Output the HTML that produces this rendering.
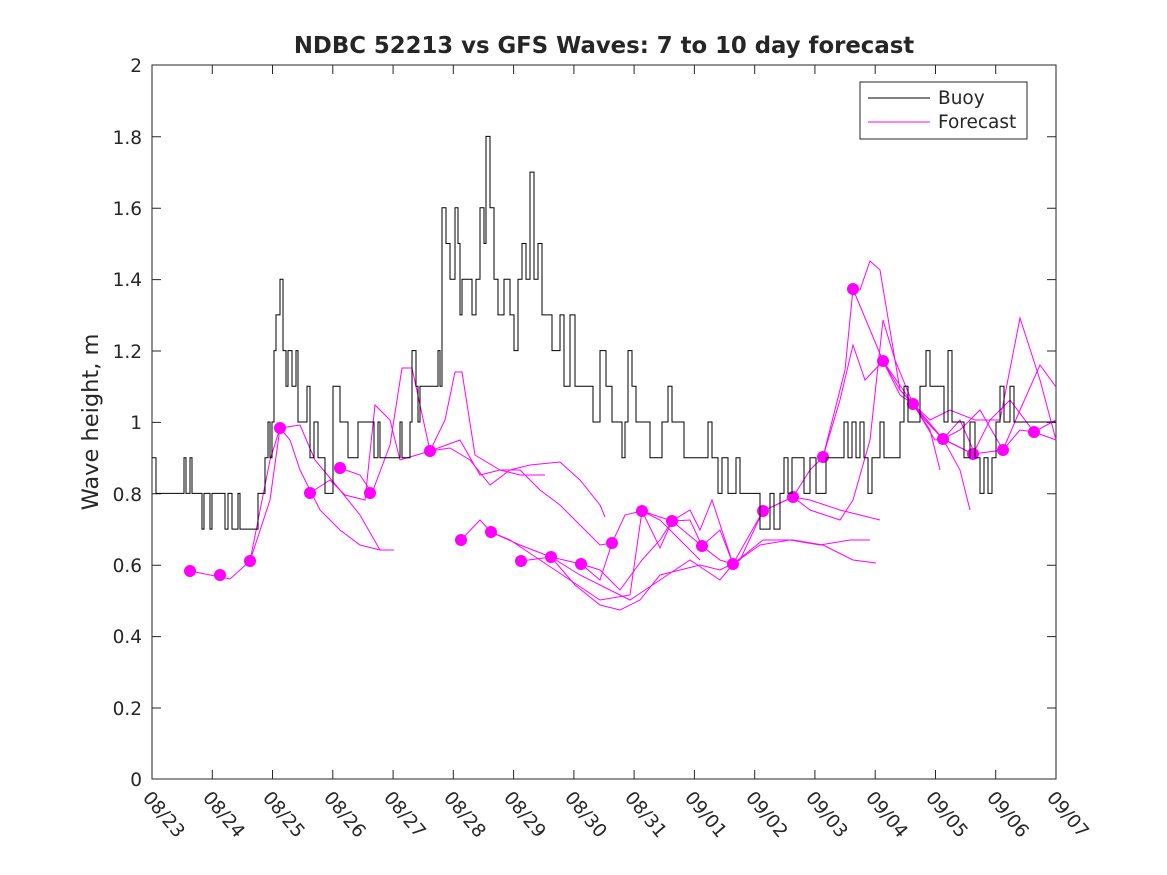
<!DOCTYPE html>
<html><head><meta charset="utf-8"><style>body{margin:0;background:#fff}svg{display:block}text{font-family:"DejaVu Sans","Liberation Sans",sans-serif;fill:#262626}</style></head><body>
<svg width="1167" height="875" viewBox="0 0 1167 875" xmlns="http://www.w3.org/2000/svg">
<rect width="1167" height="875" fill="#fff"/>
<text x="604" y="53" font-size="22.8" font-weight="bold" text-anchor="middle">NDBC 52213 vs GFS Waves: 7 to 10 day forecast</text>
<g font-size="18.5" text-anchor="end">
<text x="142" y="786">0</text><text x="142" y="715">0.2</text><text x="142" y="643">0.4</text><text x="142" y="572">0.6</text><text x="142" y="501">0.8</text><text x="142" y="429">1</text><text x="142" y="358">1.2</text><text x="142" y="286">1.4</text><text x="142" y="215">1.6</text><text x="142" y="144">1.8</text><text x="142" y="72">2</text>
</g>
<text transform="translate(98,422) rotate(-90)" font-size="22.5" text-anchor="middle">Wave height, m</text>
<g stroke="#262626" stroke-width="1" fill="none">
<path d="M152,708h9M152,636.6h9M152,565.2h9M152,493.8h9M152,422.4h9M152,351h9M152,279.6h9M152,208.2h9M152,136.8h9M1056,708h-9M1056,636.6h-9M1056,565.2h-9M1056,493.8h-9M1056,422.4h-9M1056,351h-9M1056,279.6h-9M1056,208.2h-9M1056,136.8h-9"/>
<path d="M212.3,779v-9M272.5,779v-9M332.8,779v-9M393.1,779v-9M453.3,779v-9M513.6,779v-9M573.9,779v-9M634.1,779v-9M694.4,779v-9M754.7,779v-9M814.9,779v-9M875.2,779v-9M935.5,779v-9M995.7,779v-9M212.3,65v9M272.5,65v9M332.8,65v9M393.1,65v9M453.3,65v9M513.6,65v9M573.9,65v9M634.1,65v9M694.4,65v9M754.7,65v9M814.9,65v9M875.2,65v9M935.5,65v9M995.7,65v9"/>
<rect x="152" y="65" width="904" height="714"/>
</g>
<g font-size="18.5">
<text transform="translate(142,798) rotate(50)">08/23</text>
<text transform="translate(202,798) rotate(50)">08/24</text>
<text transform="translate(262,798) rotate(50)">08/25</text>
<text transform="translate(323,798) rotate(50)">08/26</text>
<text transform="translate(383,798) rotate(50)">08/27</text>
<text transform="translate(443,798) rotate(50)">08/28</text>
<text transform="translate(503,798) rotate(50)">08/29</text>
<text transform="translate(564,798) rotate(50)">08/30</text>
<text transform="translate(624,798) rotate(50)">08/31</text>
<text transform="translate(684,798) rotate(50)">09/01</text>
<text transform="translate(745,798) rotate(50)">09/02</text>
<text transform="translate(805,798) rotate(50)">09/03</text>
<text transform="translate(865,798) rotate(50)">09/04</text>
<text transform="translate(925,798) rotate(50)">09/05</text>
<text transform="translate(986,798) rotate(50)">09/06</text>
<text transform="translate(1046,798) rotate(50)">09/07</text>
</g>
<g stroke="#f0f" stroke-width="1" fill="none">
<polyline points="190,571 230,579 250,561 270,500 280,428 290,440 300,470 320,510 340,530 360,545 380,550"/>
<polyline points="250,561 270,460 280,428 300,425 315,460 340,490 360,515 380,550 394,550"/>
<polyline points="310,493 330,480 345,495 365,500 375,405 390,420 400,460 430,451 460,440 480,475 500,470 520,475 545,475"/>
<polyline points="340,468 360,475 372,493 390,445 402,368 412,368 430,451 445,420 455,372 462,372 475,455 500,470 520,470 540,490 560,505 580,525 600,545 612,543"/>
<polyline points="430,451 450,448 470,460 490,485 510,470 530,465 560,462 580,480 600,505 605,517"/>
<polyline points="461,540 480,520 491,532 510,540 540,560 570,580 600,600 630,595 642,511 660,520 680,540 700,560"/>
<polyline points="491,532 520,545 551,557 580,575 610,590 630,600 660,580 690,560 720,580 733,564"/>
<polyline points="521,561 551,557 581,564 600,580 612,543 625,515 642,511 660,548 672,521 690,520 702,546 720,560 733,564"/>
<polyline points="551,557 575,585 600,605 620,610 640,600 660,575 680,570 700,565 720,570 740,560 763,511"/>
<polyline points="581,564 600,570 620,590 642,560 660,540 672,521 690,510 700,530 712,500 733,564 760,545 790,540 820,545 850,540 870,540"/>
<polyline points="642,511 672,521 702,546 720,530 733,564 763,511 793,497 810,500 840,510 860,515 880,520"/>
<polyline points="733,564 763,540 793,540 823,545 853,560 876,563"/>
<polyline points="763,511 793,497 810,470 823,457 840,400 853,345 865,380 883,361 900,390 913,404 930,430 940,470"/>
<polyline points="793,497 810,510 840,520 853,500 870,440 883,320 895,360 913,404 925,420 943,439 960,470 970,510"/>
<polyline points="823,457 845,370 853,289 860,290 870,261 880,270 900,390 913,404 935,440 943,439 960,420 975,454"/>
<polyline points="853,289 883,361 900,395 913,404 930,420 950,410 975,420 1000,420 1020,318 1040,380 1056,440"/>
<polyline points="883,361 913,404 943,439 960,430 980,410 1003,450 1020,430 1034,432 1056,440"/>
<polyline points="913,404 943,439 973,454 990,420 1010,400 1034,432 1056,420"/>
<polyline points="943,439 973,454 1003,450 1020,410 1040,365 1056,387"/>
</g>
<g fill="#f0f">
<circle cx="190" cy="571" r="6"/><circle cx="220" cy="575" r="6"/><circle cx="250" cy="561" r="6"/><circle cx="280" cy="428" r="6"/><circle cx="310" cy="493" r="6"/><circle cx="340" cy="468" r="6"/><circle cx="370" cy="493" r="6"/><circle cx="430" cy="451" r="6"/><circle cx="461" cy="540" r="6"/><circle cx="491" cy="532" r="6"/><circle cx="521" cy="561" r="6"/><circle cx="551" cy="557" r="6"/><circle cx="581" cy="564" r="6"/><circle cx="612" cy="543" r="6"/><circle cx="642" cy="511" r="6"/><circle cx="672" cy="521" r="6"/><circle cx="702" cy="546" r="6"/><circle cx="733" cy="564" r="6"/><circle cx="763" cy="511" r="6"/><circle cx="793" cy="497" r="6"/><circle cx="823" cy="457" r="6"/><circle cx="853" cy="289" r="6"/><circle cx="883" cy="361" r="6"/><circle cx="913" cy="404" r="6"/><circle cx="943" cy="439" r="6"/><circle cx="973" cy="454" r="6"/><circle cx="1003" cy="450" r="6"/><circle cx="1034" cy="432" r="6"/>
</g>
<polyline id="buoy" fill="none" stroke="#000" stroke-width="1" points=""/>
<g>
<rect x="860" y="82" width="167" height="57" fill="#fff" stroke="#262626"/>
<line x1="868" y1="98" x2="930" y2="98" stroke="#000"/>
<line x1="868" y1="122" x2="930" y2="122" stroke="#f0f"/>
<text x="938" y="104" font-size="18.5">Buoy</text>
<text x="938" y="128" font-size="18.5">Forecast</text>
</g>
</svg>
<script>
var d=[152,.9,156,.8,182,.8,184,.9,186,.8,190,.9,192,.8,200,.8,202,.7,204,.8,210,.7,212,.8,220,.8,225,.7,228,.8,232,.7,236,.7,238,.8,240,.7,255,.7,258,.8,262,.8,265,.9,268,1,270,.9,272,1,274,1.2,276,1.3,280,1.4,283,1.2,286,1.1,288,1.2,292,1.1,296,1.2,298,1,305,1,307,1.1,310,.9,314,1,318,.9,322,.9,325,.8,330,.8,333,1.1,340,1,345,1,348,.9,356,.9,358,1,370,1,374,.9,378,1,380,.9,398,.9,400,1,402,.9,408,.9,410,1,412,1.2,416,1.1,418,1,420,1.1,436,1.1,438,1.2,440,1.1,442,1.6,446,1.5,450,1.4,455,1.6,458,1.5,460,1.3,462,1.4,472,1.3,476,1.4,480,1.6,484,1.5,486,1.8,490,1.6,494,1.4,498,1.3,504,1.4,510,1.3,514,1.2,518,1.4,522,1.5,526,1.4,530,1.7,534,1.4,538,1.5,542,1.3,548,1.3,552,1.2,556,1.2,560,1.3,564,1.1,570,1.3,575,1.1,580,1.1,590,1.1,593,1,598,1,600,1.2,606,1.1,610,1.1,612,1,620,1,622,.9,625,1,628,1.2,632,1.1,636,1,640,1,650,.9,656,.9,662,1,668,1.1,672,1,680,1,684,.9,690,.9,700,.9,708,1,712,.9,718,.8,722,.9,728,.8,736,.9,740,.8,746,.8,750,.8,760,.7,766,.7,770,.8,774,.7,780,.8,784,.9,788,.8,792,.9,800,.9,804,.8,810,.9,816,.8,822,.8,826,.9,832,.9,840,.9,844,1,848,.9,852,1,856,.9,860,1,864,.9,868,.8,872,.9,876,.9,880,1,884,.9,890,.9,900,1,904,1.1,908,1,916,1,920,1.1,926,1.2,930,1.1,940,1.1,944,1,948,1.2,952,1,960,1,964,.9,970,1,975,.9,980,.8,984,.9,988,.8,992,.9,996,1,1000,1.1,1004,1,1010,1.1,1014,1,1020,1,1030,1,1040,1,1056,1];
var p=[],prev=null;for(var i=0;i<d.length;i+=2){var x=d[i],y=(779-357*d[i+1]).toFixed(1);if(prev!==null)p.push(x+","+prev);p.push(x+","+y);prev=y;}
document.getElementById("buoy").setAttribute("points",p.join(" "));
</script>
</body></html>
